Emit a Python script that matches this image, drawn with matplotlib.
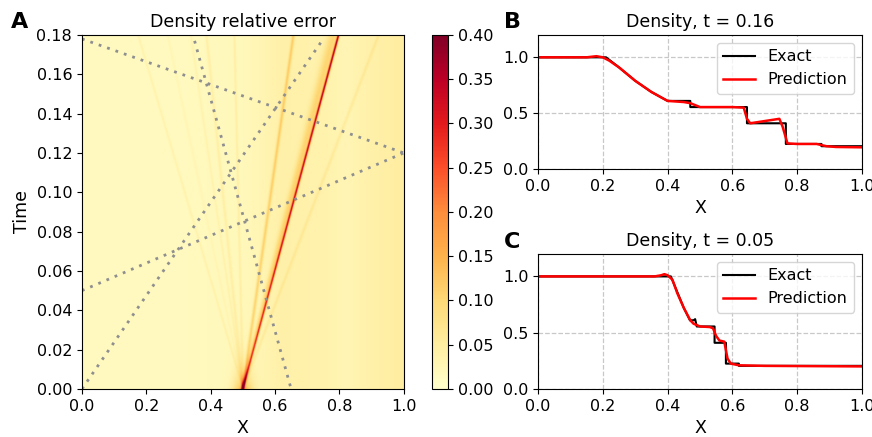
import numpy as np
import matplotlib
matplotlib.use("Agg")
import matplotlib.pyplot as plt

plt.rcParams['font.size'] = 11.5

# --- panel A: waves leaving x=0.5 (speed, peak error, half width)
wave_speed = [-1.81, -1.30, -0.90, -0.63, -0.15, 0.87, 1.65, 2.34]
wave_amp = [0.02, 0.012, 0.018, 0.025, 0.025, 0.08, 0.24, 0.025]
wave_width = [0.004, 0.004, 0.004, 0.005, 0.004, 0.005, 0.0035, 0.005]
# background error profile across x
base_x = [0.0, 0.3, 0.5, 0.62, 0.75, 0.82, 0.9, 1.0]
base_val = [0.015, 0.015, 0.02, 0.04, 0.036, 0.028, 0.04, 0.05]

# dotted sampling lines: (x0, t0) -> (x1, t1)
line_x0 = [0.0, 0.0, 0.0, 0.35]
line_t0 = [0.178, 0.05, 0.0, 0.177]
line_x1 = [1.0, 1.0, 0.75, 0.65]
line_t1 = [0.12, 0.12, 0.178, 0.0]

# --- panel B: t = 0.16
xB_exact = [0, 0.21, 0.25, 0.30, 0.35, 0.40, 0.47, 0.47, 0.645, 0.645, 0.765, 0.765, 0.875, 0.875, 1.0]
rB_exact = [1.0, 1.0, 0.91, 0.79, 0.69, 0.61, 0.61, 0.555, 0.555, 0.41, 0.41, 0.225, 0.225, 0.205, 0.205]
xB_pred = [0, 0.15, 0.18, 0.20, 0.22, 0.25, 0.30, 0.35, 0.40, 0.45, 0.47, 0.50, 0.55, 0.60, 0.635,
           0.645, 0.655, 0.70, 0.745, 0.755, 0.77, 0.80, 0.86, 0.89, 0.92, 1.0]
rB_pred = [1.0, 1.0, 1.01, 1.0, 0.97, 0.91, 0.79, 0.69, 0.61, 0.60, 0.59, 0.555, 0.555, 0.555, 0.55,
           0.45, 0.41, 0.43, 0.45, 0.38, 0.23, 0.225, 0.225, 0.205, 0.198, 0.195]

# --- panel C: t = 0.05
xC_exact = [0, 0.41, 0.43, 0.45, 0.469, 0.48, 0.485, 0.49, 0.545, 0.545, 0.58, 0.58, 0.62, 0.62, 1.0]
rC_exact = [1.0, 1.0, 0.86, 0.72, 0.61, 0.61, 0.62, 0.555, 0.555, 0.41, 0.41, 0.225, 0.225, 0.205, 0.205]
xC_pred = [0, 0.36, 0.38, 0.39, 0.40, 0.415, 0.43, 0.45, 0.47, 0.48, 0.50, 0.53, 0.54, 0.55, 0.56,
           0.575, 0.585, 0.595, 0.62, 0.7, 1.0]
rC_pred = [1.0, 1.0, 1.01, 1.02, 1.01, 0.97, 0.85, 0.72, 0.61, 0.58, 0.555, 0.55, 0.54, 0.47, 0.43,
           0.42, 0.27, 0.225, 0.21, 0.205, 0.2]

# build the error map from the wave list
xg = np.linspace(0, 1, 700)
tg = np.linspace(0, 0.18, 360)
X, T = np.meshgrid(xg, tg)
err = np.interp(X, base_x, base_val)
for s, a, w in zip(wave_speed, wave_amp, wave_width):
    amp = a * (1 + 2.0 * T) if s == 1.65 else a
    err += amp * np.exp(-((X - 0.5 - s * T) / w) ** 2)
# orange glow trailing the shock, and at the origin
shock = 0.5 + 1.65 * T
err += 0.07 * np.exp(-((X - shock + 0.004 + 0.06 * T) / (0.004 + 0.08 * T)) ** 2) * (X < shock)
err += 0.12 * np.exp(-T / 0.008) * np.exp(-((X - 0.5) / 0.03) ** 2)

fig = plt.figure(figsize=(8.72, 4.37), dpi=100)
axA = fig.add_axes([0.094, 0.110, 0.369, 0.810])
cax = fig.add_axes([0.4954, 0.110, 0.0183, 0.810])
axB = fig.add_axes([0.617, 0.613, 0.3715, 0.307])
axC = fig.add_axes([0.617, 0.110, 0.3715, 0.309])

im = axA.imshow(err, origin='lower', extent=[0, 1, 0, 0.18], aspect='auto',
                cmap='YlOrRd', vmin=0, vmax=0.4, interpolation='bilinear')
for x0, t0, x1, t1 in zip(line_x0, line_t0, line_x1, line_t1):
    axA.plot([x0, x1], [t0, t1], color='#8f8f8f', linestyle=(0, (1, 2.2)), linewidth=2)
axA.set_xlim(0, 1)
axA.set_ylim(0, 0.18)
axA.set_xticks(np.arange(0, 1.01, 0.2))
axA.set_yticks(np.arange(0, 0.181, 0.02))
axA.set_title('Density relative error', fontsize=12.5)
axA.set_xlabel('X', fontsize=12.5)
axA.set_ylabel('Time', fontsize=12.5)

cb = fig.colorbar(im, cax=cax, ticks=np.arange(0, 0.401, 0.05))
cb.ax.set_yticklabels(['%.2f' % v for v in np.arange(0, 0.401, 0.05)])

for ax, xe, re_, xp, rp, title in [(axB, xB_exact, rB_exact, xB_pred, rB_pred, 'Density, t = 0.16'),
                                    (axC, xC_exact, rC_exact, xC_pred, rC_pred, 'Density, t = 0.05')]:
    ax.plot(xe, re_, color='black', linewidth=1.5, label='Exact')
    ax.plot(xp, rp, color='red', linewidth=1.8, label='Prediction')
    ax.set_xlim(0, 1)
    ax.set_ylim(0, 1.2)
    ax.set_xticks(np.arange(0, 1.01, 0.2))
    ax.set_yticks([0.0, 0.5, 1.0])
    ax.grid(True, linestyle='--', color='#c8c8c8', linewidth=0.9)
    ax.set_title(title, fontsize=12.5)
    ax.set_xlabel('X', fontsize=12.5)
    ax.legend(loc='upper right', fontsize=11.5)

fig.text(0.013, 0.935, 'A', fontsize=16, fontweight='bold')
fig.text(0.578, 0.935, 'B', fontsize=16, fontweight='bold')
fig.text(0.578, 0.432, 'C', fontsize=16, fontweight='bold')

fig.savefig('out.png', dpi=100)
